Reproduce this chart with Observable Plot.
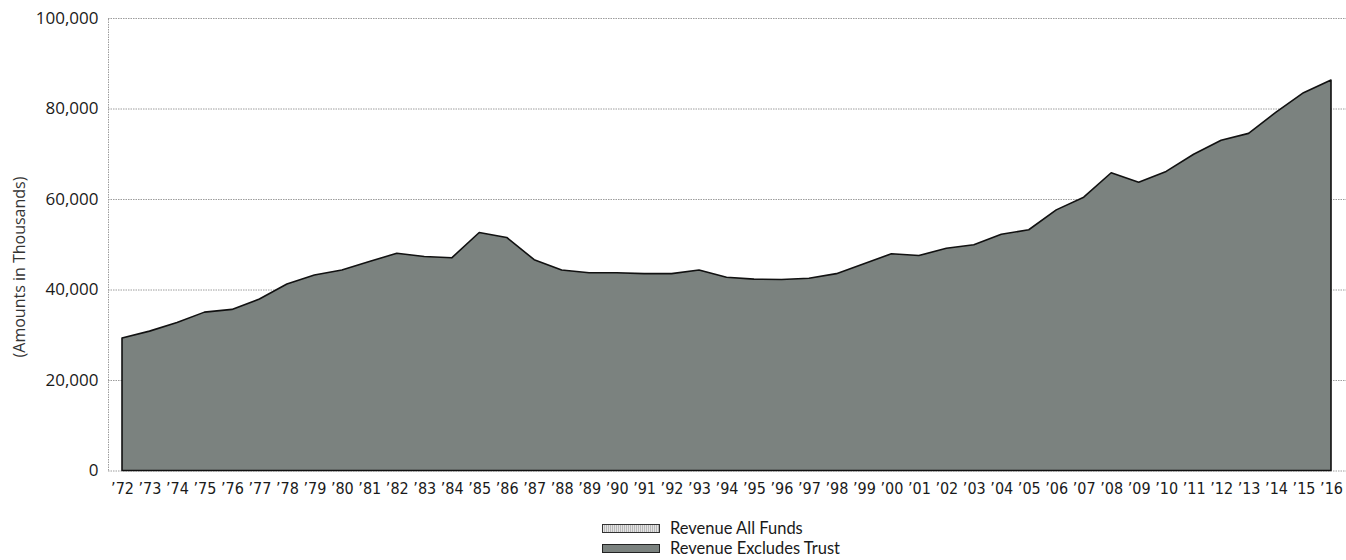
<!DOCTYPE html>
<html>
<head>
<meta charset="utf-8">
<script src="https://cdn.jsdelivr.net/npm/d3@7"></script>
<script src="https://cdn.jsdelivr.net/npm/@observablehq/plot@0.6"></script>
<style>
  html, body { margin: 0; padding: 0; background: #fff; }
  #wrap { position: relative; width: 1346px; height: 560px; overflow: hidden; }
  #chart svg { display: block; }
  .legend { position: absolute; left: 602px; top: 518px; font-family: Lato, "Open Sans", sans-serif; font-size: 16.5px; color: #1a1a1a; }
  .legend .row { display: flex; align-items: center; height: 20px; }
  .legend .row span { line-height: 20px; }
  .legend .sw { width: 56px; height: 7px; border: 1px solid #333; margin-right: 10px; }
  .legend .sw.all { background: repeating-linear-gradient(90deg, #e4e4e4 0 1px, #b8b8b8 1px 2px); }
  .legend .sw.excl { background: #7b827f; border-color: #222; }
</style>
</head>
<body>
<div id="wrap">
  <div id="chart"></div>
  <div class="legend" id="legend"></div>
</div>
<script>
// ---- Data ----
const years = [1972, 1973, 1974, 1975, 1976, 1977, 1978, 1979, 1980, 1981,
  1982, 1983, 1984, 1985, 1986, 1987, 1988, 1989, 1990, 1991,
  1992, 1993, 1994, 1995, 1996, 1997, 1998, 1999, 2000, 2001,
  2002, 2003, 2004, 2005, 2006, 2007, 2008, 2009, 2010, 2011,
  2012, 2013, 2014, 2015, 2016];
const revenueExcludesTrust = [29300, 30800, 32700, 35000, 35600, 37900, 41200, 43200, 44300, 46200,
  48000, 47300, 47000, 52600, 51500, 46600, 44300, 43700, 43700, 43500,
  43500, 44300, 42700, 42300, 42200, 42500, 43500, 45700, 47900, 47500,
  49100, 49900, 52200, 53200, 57600, 60400, 65800, 63700, 66100, 69900,
  73000, 74500, 79200, 83500, 86300];
const yTicks = [0, 20000, 40000, 60000, 80000, 100000];
const seriesNames = ["Revenue All Funds", "Revenue Excludes Trust"];
const yAxisLabel = "(Amounts in Thousands)";

// table for the library
const data = years.map((year, i) => ({year, value: revenueExcludesTrust[i]}));

// x domain padded so the first/last years sit slightly inside the frame
const xDomain = [years[0] - 0.51, years[years.length - 1] + 0.546];

const chart = Plot.plot({
  width: 1346,
  height: 505,
  marginLeft: 108,
  marginRight: 0,
  marginTop: 18,
  marginBottom: 34.5,
  style: {background: "#fff", overflow: "visible"},
  x: {type: "linear", domain: xDomain, label: null},
  y: {domain: [0, 100000], label: null},
  marks: [
    Plot.ruleY(yTicks, {stroke: "#9c9c9c", strokeWidth: 1, strokeDasharray: "1.5,1"}),
    Plot.ruleX([xDomain[0]], {stroke: "#9c9c9c", strokeWidth: 1, strokeDasharray: "1.5,1", y1: 0, y2: 100000}),
    Plot.areaY(data, {x: "year", y: "value", fill: "#7b827f", stroke: "#111", strokeWidth: 1.6, strokeLinejoin: "round"}),
    Plot.axisX(years, {
      tickSize: 0, tickPadding: 12,
      tickFormat: d => "\u2019" + String(d).slice(2),
      fontSize: 16,
      fontFamily: "'Liberation Sans Narrow', 'DejaVu Sans Condensed', 'Roboto Condensed', sans-serif",
      fill: "#1a1a1a", label: null
    }),
    Plot.axisY(yTicks, {
      tickSize: 0, tickPadding: 10,
      tickFormat: d3.format(","),
      fontSize: 17,
      fontFamily: "'Open Sans', 'Noto Sans', sans-serif",
      fill: "#1a1a1a", label: null
    })
  ]
});
document.getElementById("chart").appendChild(chart);

// rotated y-axis title
d3.select(chart).append("text")
  .attr("transform", "translate(25,267) rotate(-90)")
  .attr("text-anchor", "middle")
  .attr("font-family", "'Open Sans', 'Noto Sans', sans-serif")
  .attr("font-size", 16)
  .attr("fill", "#333")
  .text(yAxisLabel);

// legend below the chart
const legend = d3.select("#legend");
seriesNames.forEach((name, i) => {
  const row = legend.append("div").attr("class", "row");
  row.append("div").attr("class", "sw " + (i === 0 ? "all" : "excl"));
  row.append("span").text(name);
});
</script>
</body>
</html>
